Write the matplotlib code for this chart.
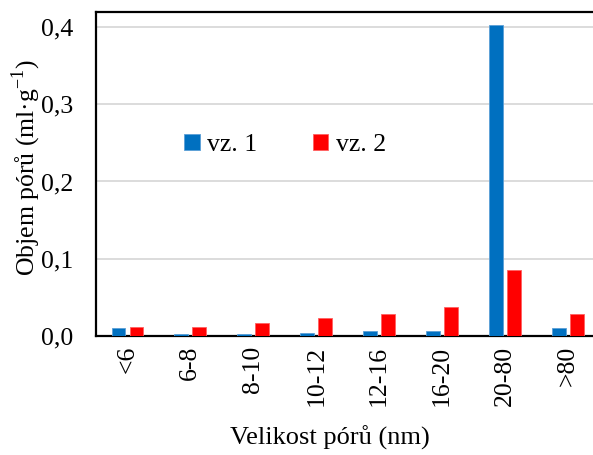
#!/usr/bin/env python
import numpy as np
import matplotlib
matplotlib.use('agg')
from matplotlib import pyplot as plt
from matplotlib.ticker import FuncFormatter

plt.rcParams['font.family'] = ['Liberation Serif', 'DejaVu Serif']
plt.rcParams['mathtext.fontset'] = 'custom'
plt.rcParams['mathtext.rm'] = 'Liberation Serif'

categories = ['<6', '6-8', '8-10', '10-12', '12-16', '16-20', '20-80', '>80']
vz1 = [0.011, 0.003, 0.003, 0.004, 0.006, 0.006, 0.402, 0.011]
vz2 = [0.012, 0.012, 0.017, 0.023, 0.029, 0.038, 0.086, 0.028]

fig = plt.figure(figsize=(5.93, 4.55), dpi=100)
ax = fig.add_axes([96 / 593, 119 / 455, 497 / 593, 324 / 455])

x = np.arange(len(categories))
w = 0.22
ax.bar(x - 0.143, vz1, w, color='#0070C0', edgecolor='#5A9FD6', linewidth=0.6, label='vz. 1', zorder=3)
ax.bar(x + 0.143, vz2, w, color='#FF0000', edgecolor='#FF6060', linewidth=0.6, label='vz. 2', zorder=3)

ax.set_xlim(-0.5, 7.4)
ax.set_ylim(0, 0.4194)
ax.set_yticks([0, 0.1, 0.2, 0.3, 0.4])
ax.yaxis.set_major_formatter(FuncFormatter(lambda v, p: ('%.1f' % v).replace('.', ',')))
ax.grid(axis='y', color='#D9D9D9', linewidth=1.3, zorder=0)
ax.set_axisbelow(True)

ax.set_xticks(x)
ax.set_xticklabels(categories, rotation=90, fontsize=18.5)
ax.tick_params(axis='x', length=0, pad=7)
ax.tick_params(axis='y', length=0, pad=16.5, labelsize=18.5)

for s in ['left', 'bottom', 'top']:
    ax.spines[s].set_linewidth(1.6)
    ax.spines[s].set_color('black')
ax.spines['right'].set_visible(False)

fig.text(26 / 593, 1 - 168 / 455, 'Objem pórů (ml·g$^{\\mathregular{-1}}$)', rotation=90,
         ha='center', va='center', fontsize=18.5)
fig.text(330 / 593, 1 - 438 / 455, 'Velikost pórů (nm)', ha='center', va='center', fontsize=19)

ax.legend(loc='center', bbox_to_anchor=(285 / 593, 1 - 145 / 455), bbox_transform=fig.transFigure,
          ncol=2, frameon=False, fontsize=18.5, handlelength=0.6, handleheight=0.6,
          handletextpad=0.3, columnspacing=2.15)

fig.savefig('out.png', dpi=100)
